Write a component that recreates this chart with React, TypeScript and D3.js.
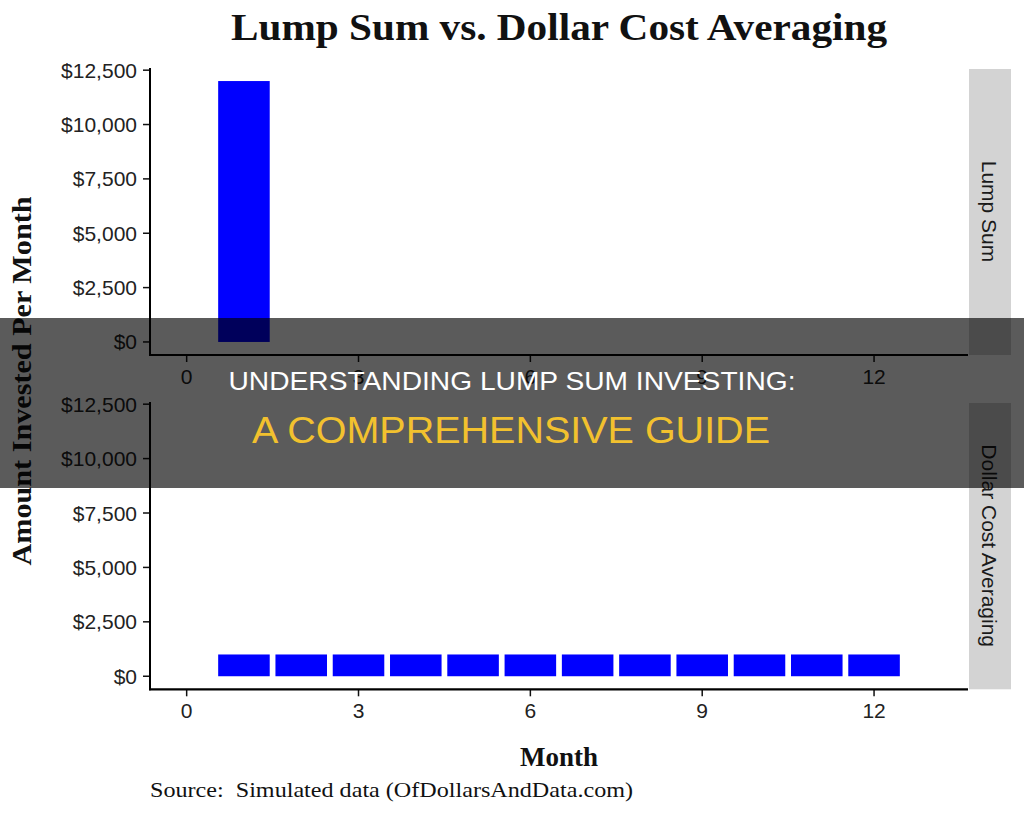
import React from "react";
import * as d3 from "d3";

const months = [1, 2, 3, 4, 5, 6, 7, 8, 9, 10, 11, 12];
const lumpSum = [12000, 0, 0, 0, 0, 0, 0, 0, 0, 0, 0, 0];
const dollarCost = [1000, 1000, 1000, 1000, 1000, 1000, 1000, 1000, 1000, 1000, 1000, 1000];
const yTicks = [0, 2500, 5000, 7500, 10000, 12500];
const xTicks = [0, 3, 6, 9, 12];
const panelNames = ["Lump Sum", "Dollar Cost Averaging"];

const W = 1024;
const H = 819;
const left = 150;
const right = 968;
const panels = [
  { name: panelNames[0], values: lumpSum, top: 68, bottom: 355 },
  { name: panelNames[1], values: dollarCost, top: 402, bottom: 689.3 },
];

const serif = "'Liberation Serif', 'DejaVu Serif', serif";
const sans = "'Liberation Sans', Arial, sans-serif";

export default function App() {
  const x = d3.scaleLinear().domain([-0.64, 13.64]).range([left, right]);
  const bw = (x(1) - x(0)) * 0.9;
  const fmt = (v: number) => "$" + d3.format(",")(v);

  return (
    <svg
      width={W}
      height={H}
      style={{ position: "absolute", left: 0, top: 0, background: "#fff" }}
    >
      <rect x={0} y={0} width={W} height={H} fill="#fff" />
      <text
        x={559}
        y={40}
        textAnchor="middle"
        fontFamily={serif}
        fontWeight="bold"
        fontSize={37}
        fill="#111"
        textLength={656}
        lengthAdjust="spacingAndGlyphs"
      >
        Lump Sum vs. Dollar Cost Averaging
      </text>

      {panels.map((p, pi) => {
        const y = d3.scaleLinear().domain([-600, 12600]).range([p.bottom, p.top]);
        return (
          <g key={pi}>
            {months.map((m, i) =>
              p.values[i] > 0 ? (
                <rect
                  key={m}
                  x={x(m) - bw / 2}
                  y={y(p.values[i])}
                  width={bw}
                  height={y(0) - y(p.values[i])}
                  fill="#0000ff"
                />
              ) : null
            )}
            {yTicks.map((t) => (
              <g key={t}>
                <line x1={left - 7} x2={left} y1={y(t)} y2={y(t)} stroke="#111" strokeWidth={1.5} />
                <text
                  x={left - 13}
                  y={y(t)}
                  textAnchor="end"
                  dominantBaseline="central"
                  fontFamily={sans}
                  fontSize={21}
                  fill="#222"
                >
                  {fmt(t)}
                </text>
              </g>
            ))}
            {xTicks.map((t) => (
              <g key={t}>
                <line x1={x(t)} x2={x(t)} y1={p.bottom} y2={p.bottom + 7} stroke="#111" strokeWidth={1.5} />
                <text
                  x={x(t)}
                  y={p.bottom + 29}
                  textAnchor="middle"
                  fontFamily={sans}
                  fontSize={21}
                  fill="#222"
                >
                  {t}
                </text>
              </g>
            ))}
            <line x1={left} x2={left} y1={p.top} y2={p.bottom + 1} stroke="#000" strokeWidth={2} />
            <line x1={left - 1} x2={right} y1={p.bottom} y2={p.bottom} stroke="#000" strokeWidth={2.2} />
            <rect x={969} y={p.top + 1} width={42} height={p.bottom - p.top - 1} fill="#d3d3d3" />
            <text
              transform={`translate(${989},${(p.top + p.bottom) / 2}) rotate(90)`}
              textAnchor="middle"
              dominantBaseline="central"
              fontFamily={sans}
              fontSize={21}
              fill="#1a1a1a"
            >
              {p.name}
            </text>
          </g>
        );
      })}

      <text
        transform="translate(31,381) rotate(-90)"
        textAnchor="middle"
        fontFamily={serif}
        fontWeight="bold"
        fontSize={27}
        fill="#111"
        textLength={369}
        lengthAdjust="spacingAndGlyphs"
      >
        Amount Invested Per Month
      </text>
      <text
        x={559}
        y={766}
        textAnchor="middle"
        fontFamily={serif}
        fontWeight="bold"
        fontSize={27}
        fill="#111"
      >
        Month
      </text>
      <text
        x={150}
        y={797}
        fontFamily={serif}
        fontSize={22}
        fill="#111"
        style={{ whiteSpace: "pre" }}
        textLength={483}
        lengthAdjust="spacingAndGlyphs"
      >
        {"Source:  Simulated data (OfDollarsAndData.com)"}
      </text>

      <rect x={0} y={318} width={W} height={170} fill="rgba(0,0,0,0.645)" />
      <text
        x={512}
        y={390}
        textAnchor="middle"
        fontFamily={sans}
        fontSize={26}
        fill="#fff"
        textLength={567}
        lengthAdjust="spacingAndGlyphs"
      >
        UNDERSTANDING LUMP SUM INVESTING:
      </text>
      <text
        x={511}
        y={443}
        textAnchor="middle"
        fontFamily={sans}
        fontSize={36}
        fill="#f2c12e"
        textLength={518}
        lengthAdjust="spacingAndGlyphs"
      >
        A COMPREHENSIVE GUIDE
      </text>
    </svg>
  );
}
